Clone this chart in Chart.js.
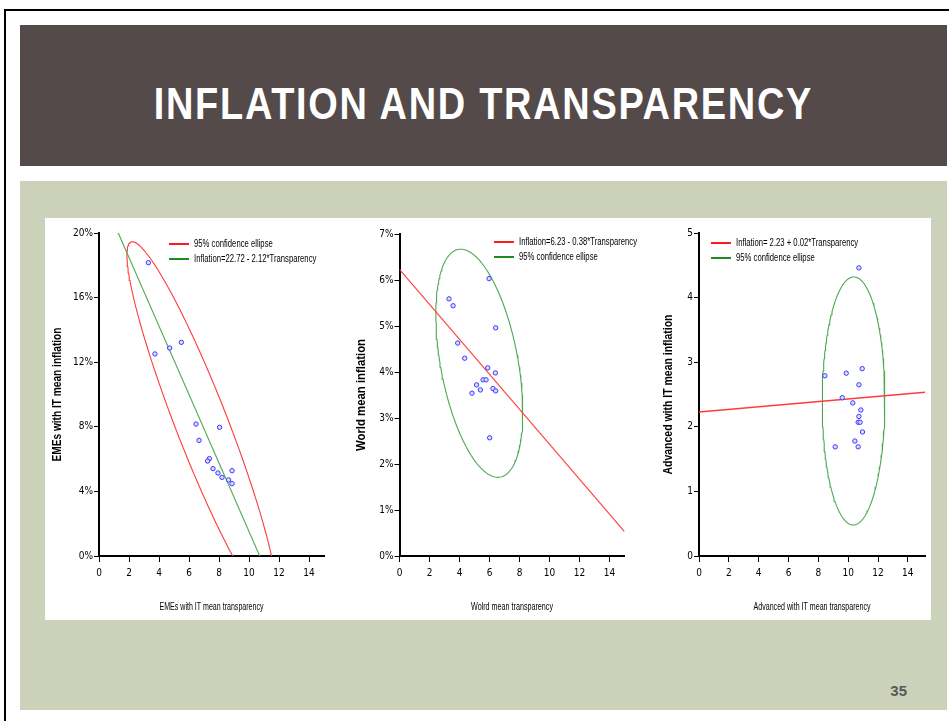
<!DOCTYPE html>
<html>
<head>
<meta charset="utf-8">
<title>Inflation and transparency</title>
<script src="https://cdn.jsdelivr.net/npm/chart.js@4.4.1/dist/chart.umd.min.js"></script>
<style>
  html, body { margin: 0; padding: 0; background: #fff; }
  body { width: 949px; height: 721px; position: relative; overflow: hidden; font-family: 'Liberation Sans', Arial, sans-serif; }
  .rule-top { position: absolute; left: 4px; top: 9px; width: 945px; height: 2px; background: #000; }
  .rule-left { position: absolute; left: 4px; top: 9px; width: 2px; height: 712px; background: #000; }
  .title-bar { position: absolute; left: 20px; top: 25px; width: 927px; height: 141px; background: #544a49; }
  .title-bar h1 { position: absolute; left: 0; right: 0; top: 57px; margin: 0; text-align: center;
    color: #fff; font: bold 44px/44px 'Liberation Sans', Arial, sans-serif; letter-spacing: 2px;
    transform: scaleX(0.862); transform-origin: 463px 0; }
  .body-panel { position: absolute; left: 20px; top: 181px; width: 927px; height: 529px; background: #ccd1ba; }
  .plot-box { position: absolute; left: 45px; top: 218px; width: 886px; height: 402px; background: #fff; }
  canvas { position: absolute; }
  .slide-no { position: absolute; right: 42px; top: 682px; font: bold 15px 'Liberation Sans', Arial, sans-serif; color: #595959; }
</style>
</head>
<body>
<div class="rule-top"></div>
<div class="rule-left"></div>
<div class="title-bar"><h1>INFLATION AND TRANSPARENCY</h1></div>
<div class="body-panel"></div>
<div class="plot-box"></div>
<canvas id="eme" width="300" height="402" style="left:45px;top:218px;"></canvas>
<canvas id="world" width="300" height="402" style="left:345px;top:218px;"></canvas>
<canvas id="advanced" width="281" height="402" style="left:650px;top:218px;"></canvas>
<div class="slide-no">35</div>

<script>
// ---- shared axis ticks ----
const transparencyTicks = [0, 2, 4, 6, 8, 10, 12, 14];

// ---- emerging market economies with inflation targeting ----
const emeYTicks = [0, 4, 8, 12, 16, 20];
const emeTransparency = [3.29, 3.73, 4.71, 5.49, 6.47, 6.67, 8.04, 7.36, 7.24, 7.60, 7.93, 8.20, 8.87, 8.64, 8.87];
const emeInflation    = [18.16, 12.51, 12.88, 13.23, 8.17, 7.16, 7.97, 6.03, 5.88, 5.41, 5.14, 4.87, 5.28, 4.71, 4.48];
const emeFit = [22.72, -2.12];            // intercept, slope
const emeEllipseCenter = [6.87, 8.13];
const emeEllipseTop = [2.22, 19.46];      // highest point of the ellipse
const emeEllipseHalfWidth = 1.86;         // half the horizontal chord through the centre
const emeLegend = ['95% confidence ellipse', 'Inflation=22.72 - 2.12*Transparency'];
const emeXTitle = 'EMEs with IT mean transparency';
const emeYTitle = 'EMEs with IT mean inflation';

// ---- world ----
const worldYTicks = [0, 1, 2, 3, 4, 5, 6, 7];
const worldTransparency = [5.97, 3.30, 3.57, 6.41, 3.88, 4.35, 5.88, 6.39, 5.14, 4.83, 5.39, 5.57, 5.77, 6.23, 6.41, 6.01];
const worldInflation    = [6.03, 5.59, 5.44, 4.96, 4.63, 4.30, 4.09, 3.98, 3.72, 3.54, 3.61, 3.83, 3.83, 3.64, 3.59, 2.57];
const worldFit = [6.23, -0.38];
const worldEllipseCenter = [5.32, 4.19];
const worldEllipseTop = [4.08, 6.67];
const worldEllipseHalfWidth = 2.62;
const worldLegend = ['Inflation=6.23 - 0.38*Transparency', '95% confidence ellipse'];
const worldXTitle = 'Wolrd mean transparency';
const worldYTitle = 'World mean inflation';

// ---- advanced economies with inflation targeting ----
const advYTicks = [0, 1, 2, 3, 4, 5];
const advTransparency = [10.72, 8.44, 9.87, 10.94, 10.72, 9.60, 10.31, 10.85, 10.72, 10.67, 10.80, 10.96, 10.45, 9.13, 10.67];
const advInflation    = [4.46, 2.79, 2.83, 2.90, 2.65, 2.45, 2.37, 2.26, 2.16, 2.07, 2.07, 1.92, 1.78, 1.69, 1.69];
const advFit = [2.23, 0.02];
const advEllipseCenter = [10.36, 2.40];
const advEllipseTop = [10.38, 4.32];
const advEllipseHalfWidth = 2.10;
const advLegend = ['Inflation= 2.23 + 0.02*Transparency', '95% confidence ellipse'];
const advXTitle = 'Advanced with IT mean transparency';
const advYTitle = 'Advanced with IT mean inflation';

// ---- helpers ----
const AXIS_FONT = "'Liberation Sans Narrow', 'DejaVu Sans Condensed', 'Liberation Sans', sans-serif";
const TEXT_FONT = "'Liberation Sans', Arial, sans-serif";
const RED = '#ff3b3b', GREEN = '#4fa84f';
const RED_KEY = '#ff1a1a', GREEN_KEY = '#1f8a1f';

function pairs(xs, ys) { return xs.map((x, i) => ({ x: x, y: ys[i] })); }

function fitSegment(fit, x0, x1) {
  return [{ x: x0, y: fit[0] + fit[1] * x0 }, { x: x1, y: fit[0] + fit[1] * x1 }];
}

// Outline of an ellipse given its centre, its highest point and the
// half-width of the horizontal chord through the centre (conjugate diameters).
function ellipseOutline(center, top, halfWidth) {
  const ux = top[0] - center[0], uy = top[1] - center[1];
  const pts = [];
  for (let i = 0; i <= 180; i++) {
    const t = (i / 180) * Math.PI * 2;
    pts.push({ x: center[0] + ux * Math.cos(t) + halfWidth * Math.sin(t), y: center[1] + uy * Math.cos(t) });
  }
  return pts;
}

// Small key drawn inside the plot area
const panelLegend = {
  id: 'panelLegend',
  afterDraw(chart, args, opts) {
    if (!opts.items) return;
    const { ctx, chartArea } = chart;
    opts.items.forEach((item, i) => {
      const x = chartArea.left + opts.left;
      const y = chartArea.top + opts.top + i * opts.rowGap;
      ctx.save();
      ctx.strokeStyle = item.color;
      ctx.lineWidth = 2;
      ctx.beginPath();
      ctx.moveTo(x, y);
      ctx.lineTo(x + opts.sample, y);
      ctx.stroke();
      ctx.translate(x + opts.sample + opts.gap, y);
      ctx.scale(opts.squeeze, 1);
      ctx.fillStyle = '#000';
      ctx.font = '10px ' + TEXT_FONT;
      ctx.textBaseline = 'middle';
      ctx.fillText(item.text, 0, 0);
      ctx.restore();
    });
  }
};

// Condensed axis captions below the x axis and beside the y axis
const axisCaptions = {
  id: 'axisCaptions',
  afterDraw(chart, args, o) {
    if (!o.x) return;
    const { ctx, chartArea: a } = chart;
    ctx.save();
    ctx.fillStyle = '#000';
    ctx.textAlign = 'center';
    ctx.textBaseline = 'middle';
    ctx.font = '10px ' + TEXT_FONT;
    ctx.fillText(o.x, (a.left + a.right) / 2, a.bottom + o.xOffset, o.xWidth);
    ctx.translate(o.yCenter, (a.top + a.bottom) / 2);
    ctx.rotate(-Math.PI / 2);
    ctx.font = 'bold 12px ' + TEXT_FONT;
    ctx.fillText(o.y, 0, 0, o.yWidth);
    ctx.restore();
  }
};
Chart.register(panelLegend, axisCaptions);

function buildPanel(id, p) {
  const datasets = [
    {
      data: pairs(p.xs, p.ys),
      showLine: false,
      pointRadius: 2.2,
      pointBorderWidth: 1,
      pointBorderColor: '#3a3aff',
      pointBackgroundColor: 'rgba(215,215,255,0.9)',
      order: 0
    },
    {
      data: fitSegment(p.fit, p.fitFrom, p.fitTo),
      showLine: true, fill: false,
      borderColor: p.fitColor, borderWidth: p.fitWidth,
      pointRadius: 0, order: 1
    },
    {
      data: ellipseOutline(p.ellipseCenter, p.ellipseTop, p.ellipseHalfWidth),
      showLine: true, fill: false,
      borderColor: p.ellipseColor, borderWidth: 1.1,
      pointRadius: 0, order: 2
    }
  ];

  new Chart(document.getElementById(id), {
    type: 'scatter',
    data: { datasets },
    options: {
      responsive: false,
      animation: false,
      devicePixelRatio: 1,
      events: [],
      layout: { padding: { top: p.padTop, right: p.padRight, left: 0, bottom: 0 } },
      plugins: {
        legend: { display: false },
        tooltip: { enabled: false },
        panelLegend: {
          items: p.legend, left: p.legendLeft, top: p.legendTop,
          rowGap: 15, sample: 20, gap: 5, squeeze: 0.77
        },
        axisCaptions: {
          x: p.xTitle, xOffset: 51, xWidth: p.xTitleWidth,
          y: p.yTitle, yCenter: p.yTitleCenter, yWidth: p.yTitleWidth
        }
      },
      scales: {
        x: {
          type: 'linear', min: 0, max: p.xMax,
          afterBuildTicks: s => { s.ticks = transparencyTicks.map(v => ({ value: v })); },
          afterFit: s => { s.height = 64; },
          grid: { drawOnChartArea: false, drawTicks: true, tickLength: 6, color: '#000', lineWidth: 1 },
          border: { display: true, color: '#000', width: 2 },
          ticks: { padding: 5, color: '#000', autoSkip: false, maxRotation: 0,
                   font: { family: AXIS_FONT, size: 10 }, callback: v => String(v) }
        },
        y: {
          type: 'linear', min: 0, max: p.yMax,
          afterBuildTicks: s => { s.ticks = p.yTicks.map(v => ({ value: v })); },
          afterFit: s => { s.width = p.yWidth; },
          grid: { drawOnChartArea: false, drawTicks: true, tickLength: 5, color: '#000', lineWidth: 1 },
          border: { display: true, color: '#000', width: 2 },
          ticks: { padding: 1, color: '#000', font: { family: AXIS_FONT, size: 10 },
                   callback: v => v + p.ySuffix }
        }
      }
    }
  });
}

buildPanel('eme', {
  xs: emeTransparency, ys: emeInflation,
  fit: emeFit, fitFrom: 1, fitTo: 11.5, fitColor: GREEN, fitWidth: 1.1,
  ellipseCenter: emeEllipseCenter, ellipseTop: emeEllipseTop, ellipseHalfWidth: emeEllipseHalfWidth, ellipseColor: RED,
  legend: [{ text: emeLegend[0], color: RED_KEY }, { text: emeLegend[1], color: GREEN_KEY }],
  legendLeft: 70, legendTop: 11,
  xMax: 15, yMax: 20, yTicks: emeYTicks, ySuffix: '%',
  xTitle: emeXTitle, xTitleWidth: 104, yTitle: emeYTitle, yTitleCenter: 13, yTitleWidth: 134,
  padTop: 15, padRight: 21, yWidth: 54
});

buildPanel('world', {
  xs: worldTransparency, ys: worldInflation,
  fit: worldFit, fitFrom: 0, fitTo: 15, fitColor: RED, fitWidth: 1.1,
  ellipseCenter: worldEllipseCenter, ellipseTop: worldEllipseTop, ellipseHalfWidth: worldEllipseHalfWidth, ellipseColor: GREEN,
  legend: [{ text: worldLegend[0], color: RED_KEY }, { text: worldLegend[1], color: GREEN_KEY }],
  legendLeft: 94.5, legendTop: 8,
  xMax: 15, yMax: 7, yTicks: worldYTicks, ySuffix: '%',
  xTitle: worldXTitle, xTitleWidth: 82, yTitle: worldYTitle, yTitleCenter: 17, yTitleWidth: 112,
  padTop: 16, padRight: 20.5, yWidth: 54.5
});

buildPanel('advanced', {
  xs: advTransparency, ys: advInflation,
  fit: advFit, fitFrom: 0, fitTo: 15.15, fitColor: RED, fitWidth: 1.5,
  ellipseCenter: advEllipseCenter, ellipseTop: advEllipseTop, ellipseHalfWidth: advEllipseHalfWidth, ellipseColor: GREEN,
  legend: [{ text: advLegend[0], color: RED_KEY }, { text: advLegend[1], color: GREEN_KEY }],
  legendLeft: 12, legendTop: 10,
  xMax: 15.15, yMax: 5, yTicks: advYTicks, ySuffix: '',
  xTitle: advXTitle, xTitleWidth: 117, yTitle: advYTitle, yTitleCenter: 19, yTitleWidth: 160,
  padTop: 15, padRight: 6, yWidth: 49
});
</script>
</body>
</html>
